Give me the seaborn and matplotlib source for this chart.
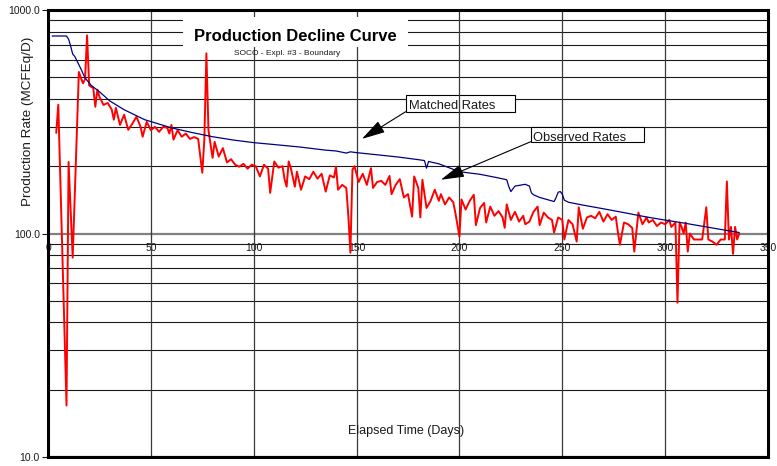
import matplotlib
matplotlib.use("Agg")
import matplotlib.pyplot as plt
from matplotlib.patches import Rectangle
from matplotlib.ticker import FixedLocator, FixedFormatter, LogLocator, NullFormatter
import pandas as pd
import seaborn as sns

# Observed daily gas rates (MCFEq/D) by elapsed day
obs_days = [4, 5, 9, 10, 12, 15, 16, 17, 18, 19, 20, 21, 22, 23, 24, 25, 27, 29, 31, 32,
            33, 35, 37, 39, 41, 43, 45, 46, 48, 50, 52, 54, 56, 58, 59, 60, 61, 63, 65, 67,
            69, 71, 73, 75, 76, 77, 78, 80, 81, 83, 85, 87, 89, 91, 93, 95, 97, 99, 101, 103,
            105, 107, 108, 110, 112, 114, 115, 116, 117, 118, 120, 121, 123, 125, 127, 129, 131, 133, 135, 137,
            139, 140, 141, 143, 145, 146, 147, 148, 149, 151, 153, 155, 157, 158, 160, 162, 164, 166, 167, 169,
            171, 173, 175, 177, 178, 180, 181, 182, 184, 186, 188, 190, 191, 193, 195, 197, 198, 200, 201, 203,
            205, 207, 208, 210, 212, 213, 215, 217, 219, 221, 222, 223, 225, 227, 229, 231, 232, 234, 236, 238,
            239, 241, 243, 245, 246, 248, 250, 251, 253, 255, 257, 258, 260, 262, 264, 266, 268, 270, 272, 274,
            276, 277, 278, 280, 282, 284, 285, 287, 289, 291, 292, 294, 296, 298, 300, 302, 303, 305, 306, 307,
            308, 309, 310, 311, 312, 314, 316, 318, 320, 321, 323, 325, 327, 329, 330, 331, 332, 333, 334, 335,
            336]
obs_rate = [282, 377, 17, 209, 78, 528, 497, 470, 490, 770, 460, 453, 448, 369, 440, 409, 376, 384, 358, 323,
            365, 306, 340, 291, 310, 333, 300, 271, 316, 290, 300, 285, 300, 297, 280, 306, 263, 290, 271, 280,
            265, 270, 265, 187, 263, 640, 290, 218, 257, 221, 241, 208, 215, 203, 199, 205, 195, 203, 200, 180,
            203, 195, 152, 210, 197, 200, 175, 162, 210, 197, 162, 189, 157, 180, 175, 189, 176, 185, 154, 182,
            178, 199, 157, 165, 160, 120, 82, 193, 200, 170, 185, 165, 196, 160, 170, 172, 165, 181, 150, 165,
            175, 145, 150, 119, 180, 160, 118, 174, 130, 140, 157, 140, 150, 135, 145, 138, 124, 97, 142, 128,
            140, 149, 109, 130, 137, 112, 132, 120, 126, 118, 106, 135, 115, 125, 113, 120, 110, 113, 125, 132,
            109, 124, 118, 115, 101, 118, 115, 94, 115, 110, 92, 131, 105, 118, 120, 117, 125, 113, 122, 115,
            119, 102, 89, 112, 110, 106, 83, 124, 110, 118, 112, 115, 108, 112, 110, 115, 107, 112, 49, 112,
            107, 100, 112, 83, 100, 94, 94, 94, 131, 94, 92, 89, 94, 94, 171, 94, 107, 81, 107, 94,
            100]

# Matched (model) rates
match_days = [2, 9, 10, 11, 12, 13, 16, 18, 21, 25, 30, 37, 47, 60, 70, 80, 90, 100, 110, 122,
              135, 140, 145, 147, 150, 160, 170, 180, 183, 184, 185, 190, 200, 210, 218, 223, 224, 225, 227, 232,
              234, 235, 236, 239, 246, 247, 248, 249, 250, 251, 253, 260, 270, 280, 290, 297, 310, 320, 336]
match_rate = [765, 765, 740, 690, 635, 620, 545, 497, 460, 431, 392, 358, 323, 297, 283, 271, 262, 255, 250, 244,
              236, 234, 229, 232, 230, 225, 220, 214, 212, 196, 210, 205, 189, 184, 178, 174, 162, 154, 163, 166,
              163, 152, 149, 145, 139, 145, 153, 154, 150, 141, 138, 134, 129, 124, 119, 116, 111, 107, 101]

x_ticks = [0, 50, 100, 150, 200, 250, 300, 350]
y_ticks = [10, 100, 1000]
y_tick_labels = ["10.0", "100.0", "1000.0"]

title = "Production Decline Curve"
subtitle = "SOCO - Expl. #3 - Boundary"
x_label = "Elapsed Time (Days)"
y_label = "Production Rate (MCFEq/D)"
matched_label = "Matched Rates"
observed_label = "Observed Rates"

sns.set_style("white")
plt.rcParams["font.family"] = ["Liberation Sans", "DejaVu Sans"]

W, H = 777, 466
fig = plt.figure(figsize=(W / 100, H / 100), dpi=100)


def fx(px):
    return px / W


def fy(py):
    return 1 - py / H


ax = fig.add_axes([fx(48), fy(457), (768 - 48) / W, (457 - 10) / H])
ax.set_yscale("log")

obs = pd.DataFrame({"Days": obs_days, "Rate": obs_rate})
mat = pd.DataFrame({"Days": match_days, "Rate": match_rate})
sns.lineplot(data=obs, x="Days", y="Rate", color="#FF0000", lw=1.4, ax=ax, zorder=2)
sns.lineplot(data=mat, x="Days", y="Rate", color="#000080", lw=0.9, ax=ax, zorder=2.1)

ax.set_xlim(0, 350)
ax.set_ylim(10, 1000)
ax.set_xlabel("")
ax.set_ylabel("")

# y axis: decade labels, gridlines at every minor step
ax.yaxis.set_major_locator(FixedLocator(y_ticks))
ax.yaxis.set_major_formatter(FixedFormatter(y_tick_labels))
ax.yaxis.set_minor_locator(LogLocator(base=10, subs=range(2, 10)))
ax.yaxis.set_minor_formatter(NullFormatter())
ax.tick_params(axis="y", which="minor", length=0)
ax.tick_params(axis="y", which="major", length=4.3, width=0.8, pad=1.5,
               labelsize=7.5, colors="#1a1a1a", left=True)
ax.tick_params(axis="x", which="both", bottom=False, top=False, labelbottom=False)

ax.set_axisbelow(True)
ax.grid(False)
ax.yaxis.grid(True, which="minor", color="#1a1a1a", lw=0.8)
ax.yaxis.grid(True, which="major", color="#808080", lw=1.6)
for t in x_ticks[1:-1]:
    ax.axvline(t, color="#3a3a3a", lw=0.9, zorder=1.2)

for s in ["left", "bottom", "top", "right"]:
    ax.spines[s].set_visible(True)
    ax.spines[s].set_color("black")
    ax.spines[s].set_linewidth(2.2)

# x tick labels sit on the 100 line
sec = ax.secondary_xaxis(0.5)
sec.set_alignment("bottom")
sec.set_xticks(x_ticks)
sec.set_xticklabels([str(t) for t in x_ticks])
sec.tick_params(axis="x", length=4, direction="inout", width=0.8, labelsize=7.5,
                pad=4.5, colors="#1a1a1a")
for sp in sec.spines.values():
    sp.set_visible(False)

# title block
ax.add_patch(Rectangle((fx(183), fy(47)), (408 - 183) / W, 30 / H, transform=fig.transFigure,
                       facecolor="white", edgecolor="none", zorder=3, clip_on=False))
fig.text(fx(295.5), fy(40.7), title, ha="center", va="baseline", fontsize=12,
         fontweight="bold", color="black")
fig.text(fx(287.5), fy(55), subtitle, ha="center", va="baseline", fontsize=6, color="#1a1a1a")

# axis titles
fig.text(fx(28), fy(121), y_label, rotation=90, ha="center", va="center",
         fontsize=9.7, color="#1a1a1a")
fig.text(fx(347.7), fy(434), x_label, ha="left", va="baseline", fontsize=9, color="#1a1a1a")

# callout boxes with arrows
callouts = [
    (matched_label, (405.7, 95, 515, 111.7), 409, 109.3, (152.6, 265)),
    (observed_label, (530.7, 127.3, 644, 141.7), 533, 140.8, (191, 174)),
]
for label, (x0, y0, x1, y1), tx, ty, tip in callouts:
    ax.add_patch(Rectangle((fx(x0), fy(y1)), (x1 - x0) / W, (y1 - y0) / H,
                           transform=fig.transFigure, facecolor="white", edgecolor="black",
                           lw=0.8, zorder=1.0, clip_on=False))
    fig.text(fx(tx), fy(ty), label, ha="left", va="baseline", fontsize=9.3, color="#1a1a1a")
    ax.annotate("", xy=tip, xycoords="data", xytext=(fx(x0), fy(y1)),
                textcoords="figure fraction", annotation_clip=False, zorder=4,
                arrowprops=dict(arrowstyle="-|>,head_length=1.45,head_width=0.4",
                                mutation_scale=10, color="black", lw=0.8,
                                shrinkA=0, shrinkB=0))

fig.savefig("out.png", dpi=100)
